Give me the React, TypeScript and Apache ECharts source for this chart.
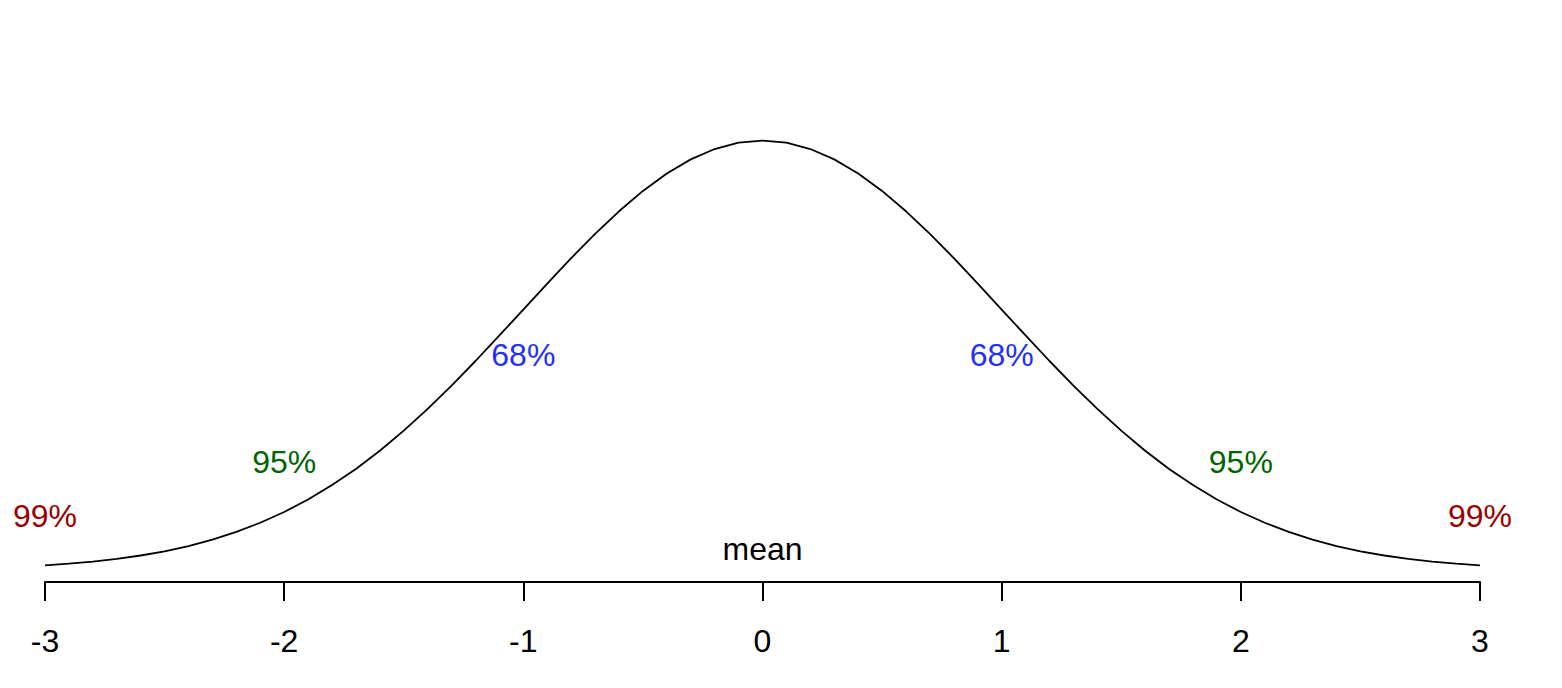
import React, { useEffect, useRef } from "react";
import * as echarts from "echarts";

const xValues = [
  -3.0, -2.9, -2.8, -2.7, -2.6, -2.5, -2.4, -2.3, -2.2, -2.1,
  -2.0, -1.9, -1.8, -1.7, -1.6, -1.5, -1.4, -1.3, -1.2, -1.1,
  -1.0, -0.9, -0.8, -0.7, -0.6, -0.5, -0.4, -0.3, -0.2, -0.1,
  0.0, 0.1, 0.2, 0.3, 0.4, 0.5, 0.6, 0.7, 0.8, 0.9,
  1.0, 1.1, 1.2, 1.3, 1.4, 1.5, 1.6, 1.7, 1.8, 1.9,
  2.0, 2.1, 2.2, 2.3, 2.4, 2.5, 2.6, 2.7, 2.8, 2.9, 3.0,
];
const densityValues = [
  0.0044, 0.006, 0.0079, 0.0104, 0.0136, 0.0175, 0.0224, 0.0283, 0.0355, 0.044,
  0.054, 0.0656, 0.079, 0.094, 0.1109, 0.1295, 0.1497, 0.1714, 0.1942, 0.2179,
  0.242, 0.2661, 0.2897, 0.3123, 0.3332, 0.3521, 0.3683, 0.3814, 0.391, 0.397,
  0.3989, 0.397, 0.391, 0.3814, 0.3683, 0.3521, 0.3332, 0.3123, 0.2897, 0.2661,
  0.242, 0.2179, 0.1942, 0.1714, 0.1497, 0.1295, 0.1109, 0.094, 0.079, 0.0656,
  0.054, 0.044, 0.0355, 0.0283, 0.0224, 0.0175, 0.0136, 0.0104, 0.0079, 0.006, 0.0044,
];
const tickValues = [-3, -2, -1, 0, 1, 2, 3];

const labelTexts = ["99%", "95%", "68%", "mean", "68%", "95%", "99%"];
const labelX = [-3, -2, -1, 0, 1, 2, 3];
const labelY = [0.05, 0.1, 0.2, 0.02, 0.2, 0.1, 0.05];
const labelColors = ["#990000", "#006400", "#1f2fff", "#000000", "#1f2fff", "#006400", "#990000"];

export default function App() {
  const ref = useRef<HTMLDivElement>(null);
  useEffect(() => {
    if (!ref.current) return;
    const chart = echarts.init(ref.current, undefined, { renderer: "svg" });
    const font = "'Liberation Sans', Arial, Helvetica, sans-serif";
    chart.setOption({
      animation: false,
      backgroundColor: "#ffffff",
      grid: { left: 45, right: 82, top: 85.5, bottom: 106, containLabel: false },
      xAxis: {
        type: "value",
        min: -3,
        max: 3,
        interval: 1,
        axisLine: { onZero: false, lineStyle: { color: "#000", width: 2 } },
        axisTick: { show: true, length: 19, lineStyle: { color: "#000", width: 2 } },
        axisLabel: {
          color: "#000",
          fontSize: 32,
          fontFamily: font,
          margin: 43,
          showMinLabel: true,
          showMaxLabel: true,
          formatter: (v: number) => (tickValues.includes(v) ? String(v) : ""),
        },
        splitLine: { show: false },
      },
      yAxis: {
        type: "value",
        min: -0.011,
        max: 0.45,
        show: false,
        splitLine: { show: false },
      },
      series: [
        {
          type: "line",
          data: xValues.map((x, i) => [x, densityValues[i]]),
          showSymbol: false,
          symbol: "none",
          lineStyle: { color: "#000", width: 1.8 },
          silent: true,
        },
        {
          type: "scatter",
          symbolSize: 0,
          silent: true,
          itemStyle: { opacity: 1 },
          data: labelX.map((x, i) => ({
            value: [x, labelY[i]],
            itemStyle: { opacity: 1, color: labelColors[i] },
            label: {
              show: true,
              position: "inside",
              formatter: labelTexts[i],
              color: labelColors[i],
              opacity: 1,
              fontSize: 32,
              fontFamily: font,
            },
          })),
        },
      ],
    });
    return () => chart.dispose();
  }, []);
  return (
    <div
      ref={ref}
      style={{ position: "absolute", left: 0, top: 0, width: 1562, height: 688 }}
    />
  );
}
